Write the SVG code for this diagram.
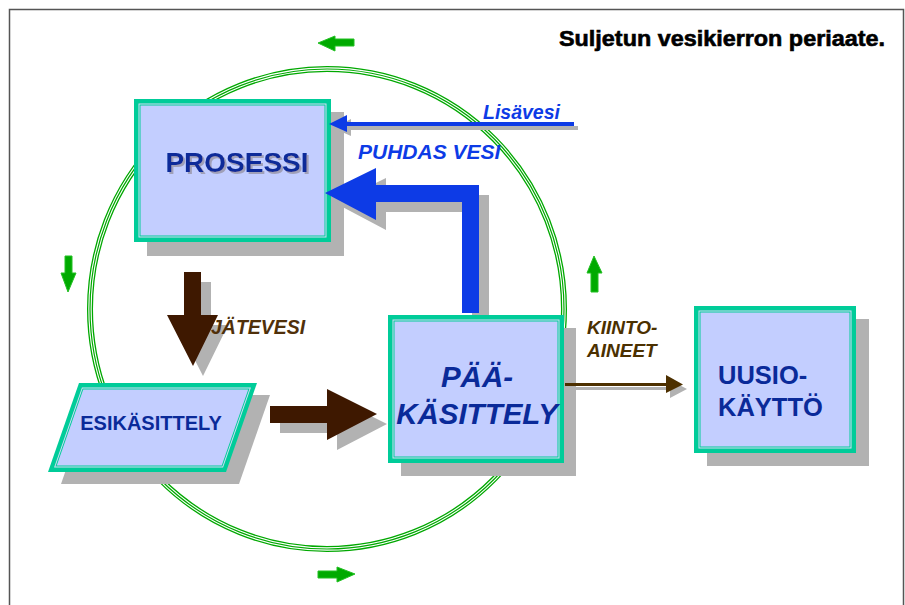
<svg xmlns="http://www.w3.org/2000/svg" width="905" height="605" viewBox="0 0 905 605">
<defs>
<filter id="ts" x="-10%" y="-20%" width="130%" height="150%">
<feOffset in="SourceAlpha" dx="2" dy="2" result="o"/>
<feFlood flood-color="#A0A0B8"/>
<feComposite in2="o" operator="in" result="s"/>
<feMerge><feMergeNode in="s"/><feMergeNode in="SourceGraphic"/></feMerge>
</filter>
</defs>
<style>
.t{font-family:"Liberation Sans",Arial,sans-serif;font-weight:bold}
.i{font-style:italic}
.box{fill:#00CC99}
.l1{fill:#D3DCF8}
.l2{fill:#00CC99}
.fill{fill:#C3CEFF}
.sh{fill:#B2B2B2}
.blue{fill:#0D3BE6}
.brown{fill:#3E1800}
.dk{fill:#0A2A99}
.garr{fill:#00AA00;stroke:#22C022;stroke-width:1}
</style>
<rect width="905" height="605" fill="#fff"/>
<path d="M9.5,610 V9.5 H903.5 V610" fill="none" stroke="#555" stroke-width="1.5"/>

<g id="cycle">
<ellipse cx="327" cy="309" rx="237" ry="240" fill="none" stroke="#00A800" stroke-width="6"/>
<ellipse cx="327" cy="309" rx="237" ry="240" fill="none" stroke="#fff" stroke-width="3.4"/>
<ellipse cx="327" cy="309" rx="237" ry="240" fill="none" stroke="#00A800" stroke-width="1.2"/>
<polygon class="garr" points="318,43 335,36 335,39 354,39 354,46 335,46 335,51"/>
<polygon class="garr" points="355,574 337,567 337,571 318,571 318,578 337,578 337,582"/>
<polygon class="garr" points="68,292 61,273 65,273 65,256 72,256 72,273 76,273"/>
<polygon class="garr" points="594,256 587,273 591,273 591,292 598,292 598,273 602,273"/>
</g>

<text class="t" x="559" y="46" font-size="21.5" textLength="326" lengthAdjust="spacingAndGlyphs" fill="#000" stroke="#000" stroke-width="0.6">Suljetun vesikierron periaate.</text>

<g id="prosessi">
<rect class="sh" x="147" y="112" width="197" height="144"/>
<rect class="box" x="134" y="99" width="197" height="143"/>
<rect class="l1" x="138.5" y="103.5" width="188" height="134"/>
<rect class="l2" x="139.5" y="104.5" width="186" height="132"/>
<rect class="fill" x="140.5" y="105.5" width="184" height="130"/>
<text class="t dk" x="237" y="172" font-size="28" text-anchor="middle" filter="url(#ts)">PROSESSI</text>
</g>

<g id="esikasittely">
<g transform="translate(92,395) skewX(-19.2)"><rect class="sh" x="0" y="0" width="178" height="89"/></g>
<g transform="translate(79,383) skewX(-19.2)">
<rect class="box" x="0" y="0" width="178" height="89"/>
<rect class="l1" x="4.5" y="4.5" width="169" height="80"/>
<rect class="l2" x="5.5" y="5.5" width="167" height="78"/>
<rect class="fill" x="6.5" y="6.5" width="165" height="76"/>
</g>
<text class="t dk" x="151" y="430" font-size="20" text-anchor="middle">ESIKÄSITTELY</text>
</g>

<g id="paakasittely">
<rect class="sh" x="401" y="328" width="175" height="148"/>
<rect class="box" x="388" y="315" width="176" height="148"/>
<rect class="l1" x="392.5" y="319.5" width="167" height="139"/>
<rect class="l2" x="393.5" y="320.5" width="165" height="137"/>
<rect class="fill" x="394.5" y="321.5" width="163" height="135"/>
<text class="t i dk" x="477" y="387" font-size="29.5" text-anchor="middle">PÄÄ-</text>
<text class="t i dk" x="477" y="424" font-size="29.5" text-anchor="middle">KÄSITTELY</text>
</g>

<g id="uusiokaytto">
<rect class="sh" x="707" y="319" width="162" height="147"/>
<rect class="box" x="694" y="306" width="162" height="147"/>
<rect class="l1" x="698.5" y="310.5" width="153" height="138"/>
<rect class="l2" x="699.5" y="311.5" width="151" height="136"/>
<rect class="fill" x="700.5" y="312.5" width="149" height="134"/>
<text class="t dk" x="718" y="384" font-size="25.5">UUSIO-</text>
<text class="t dk" x="718" y="416" font-size="25.5">KÄYTTÖ</text>
</g>

<g id="connectors">
<polygon class="sh" points="335,203 386,178 386,195 489,195 489,315 472,315 472,212 386,212 386,230"/>
<polygon class="blue" points="325,193 376,168 376,185 479,185 479,313 462,313 462,202 376,202 376,220"/>
<polygon class="sh" points="333,128 351,119 351,126 578,126 578,130 351,130 351,136"/>
<polygon class="blue" points="329,124 347,115 347,122 574,122 574,126 347,126 347,132"/>
<polygon class="sh" points="203,376 177,325 194,325 194,282 211,282 211,325 228,325"/>
<polygon class="brown" points="193,366 167,315 184,315 184,272 201,272 201,315 218,315"/>
<polygon class="sh" points="387,424 337,399 337,416 280,416 280,433 337,433 337,450"/>
<polygon class="brown" points="377,414 327,389 327,406 270,406 270,423 327,423 327,440"/>
<polygon class="sh" points="687,389 670,380 670,387 576,387 576,390 670,390 670,398"/>
<polygon points="683,384.5 666,375 666,383 565,383 565,386 666,386 666,393" fill="#4D3000"/>
<text class="t i" x="483" y="119" font-size="19.5" fill="#0D3BE6">Lisävesi</text>
<text class="t i" x="358" y="159" font-size="21" fill="#0D3BE6">PUHDAS VESI</text>
<text class="t i" x="211" y="334" font-size="19.5" fill="#50300A">JÄTEVESI</text>
<text class="t i" x="587" y="334" font-size="19" fill="#4B3000">KIINTO-</text>
<text class="t i" x="587" y="357" font-size="19" fill="#4B3000">AINEET</text>
</g>
</svg>
